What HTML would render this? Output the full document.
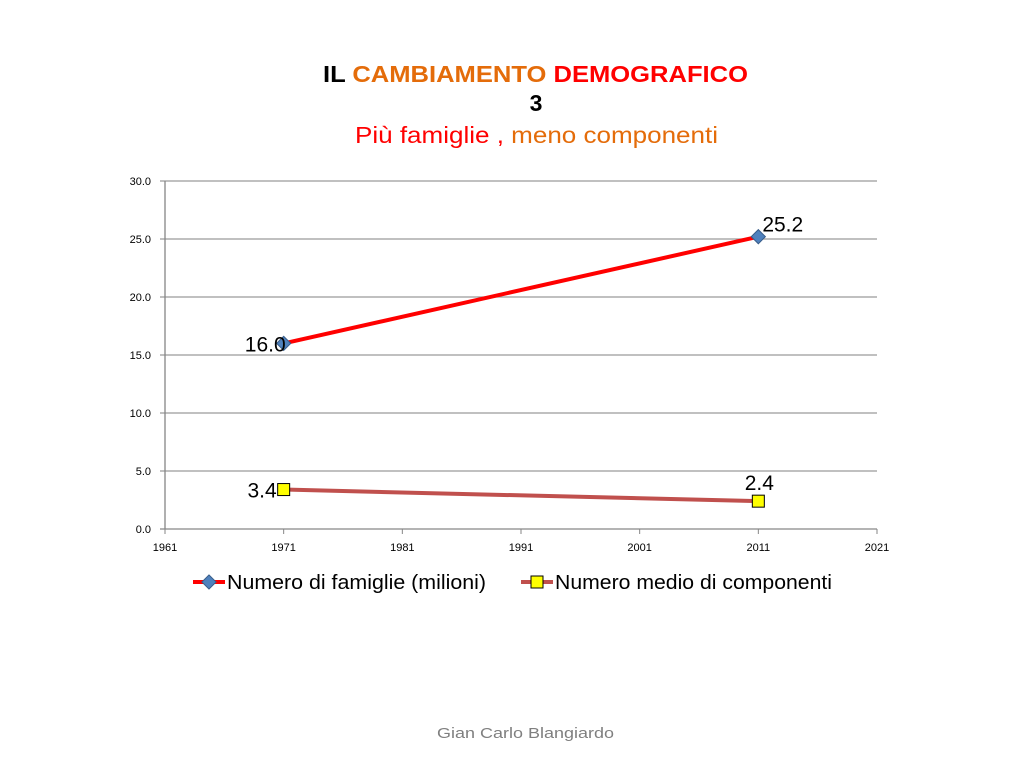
<!DOCTYPE html>
<html><head><meta charset="utf-8"><style>
body{margin:0;width:1024px;height:768px;background:#fff;overflow:hidden;font-family:"Liberation Sans",sans-serif}
</style></head><body>
<svg id="c" width="1024" height="768" xmlns="http://www.w3.org/2000/svg">
<text x="323" y="82" font-size="23" font-weight="bold" textLength="425" lengthAdjust="spacingAndGlyphs"><tspan fill="#000">IL </tspan><tspan fill="#e46c0a">CAMBIAMENTO </tspan><tspan fill="#ff0000">DEMOGRAFICO</tspan></text>
<text x="536" y="111" text-anchor="middle" font-size="23" font-weight="bold" fill="#000">3</text>
<text x="355" y="143" font-size="23" textLength="363" lengthAdjust="spacingAndGlyphs"><tspan fill="#ff0000">Più famiglie ,  </tspan><tspan fill="#e46c0a">meno componenti</tspan></text>
<g id="grid"></g><g id="marks"></g>
<g>
<line x1="193" y1="582" x2="225" y2="582" stroke="#ff0000" stroke-width="4"/>
<rect x="204" y="577" width="10" height="10" fill="#4f81bd" stroke="#385d8a" transform="rotate(45 209 582)"/>
<text x="227" y="589" font-size="20" fill="#000" textLength="259" lengthAdjust="spacingAndGlyphs">Numero di famiglie (milioni)</text>
<line x1="521" y1="582" x2="553" y2="582" stroke="#c0504d" stroke-width="4"/>
<rect x="531" y="576" width="12" height="12" fill="#ffff00" stroke="#000"/>
<text x="555" y="589" font-size="20" fill="#000" textLength="277" lengthAdjust="spacingAndGlyphs">Numero medio di componenti</text>
</g>
<text x="437" y="738" font-size="15" fill="#7f7f7f" textLength="177" lengthAdjust="spacingAndGlyphs">Gian Carlo Blangiardo</text>
</svg>
<script>
const years=[1971,2011];
const famiglie=[16.0,25.2];
const componenti=[3.4,2.4];
const yTicks=[0,5,10,15,20,25,30];
const xTicks=[1961,1971,1981,1991,2001,2011,2021];
const NS="http://www.w3.org/2000/svg";
const X=v=>165+(v-1961)/60*712;
const Y=v=>529-v/30*348;
function mk(t,a,p,txt){const e=document.createElementNS(NS,t);for(const k in a)e.setAttribute(k,a[k]);if(txt!==undefined)e.textContent=txt;p.appendChild(e);return e;}
const g=document.getElementById('grid'),m=document.getElementById('marks');
yTicks.forEach(v=>{
 const l=mk('line',{x1:160,x2:877,y1:Y(v),y2:Y(v),stroke:v===0?'#868686':'#9a9a9a','stroke-width':1.3},g);
 
 
 const t=mk('text',{x:151,y:Y(v)+4,'text-anchor':'end','font-size':11,fill:'#000'},g,v.toFixed(1));
 
 
});
mk('line',{x1:165,x2:165,y1:Y(30),y2:Y(0),stroke:'#868686','stroke-width':1.3},g);
xTicks.forEach(v=>{
 mk('line',{x1:X(v),x2:X(v),y1:Y(0),y2:Y(0)+5,stroke:'#868686'},g);
 const t=mk('text',{x:X(v),y:551,'text-anchor':'middle','font-size':11,fill:'#000'},g,v);
 
 
});
function series(vals,color,name,marker){
 const pts=years.map((y,i)=>X(y)+','+Y(vals[i])).join(' ');
 const pl=mk('polyline',{points:pts,fill:'none',stroke:color,'stroke-width':4},m);
 
 
 years.forEach((y,i)=>{
  const cx=X(y),cy=Y(vals[i]);let e;
  if(marker==='d')e=mk('rect',{x:cx-5,y:cy-5,width:10,height:10,fill:'#4f81bd',stroke:'#385d8a',transform:`rotate(45 ${cx} ${cy})`},m);
  else e=mk('rect',{x:cx-6,y:cy-6,width:12,height:12,fill:'#ffff00',stroke:'#000'},m);
  
  
  let lab;
  if(i===0) lab=mk('text',{x:marker==='d'?cx+2:cx-7,y:cy+8,'text-anchor':'end','font-size':21,fill:'#000'},m,vals[i].toFixed(1));
  else if(marker==='d') lab=mk('text',{x:cx+4,y:cy-5,'font-size':21,fill:'#000'},m,vals[i].toFixed(1));
  else lab=mk('text',{x:cx+1,y:cy-11,'text-anchor':'middle','font-size':21,fill:'#000'},m,vals[i].toFixed(1));
  
  
 });
}
series(famiglie,'#ff0000','famiglie','d');
series(componenti,'#c0504d','componenti','s');
</script>
</body></html>
